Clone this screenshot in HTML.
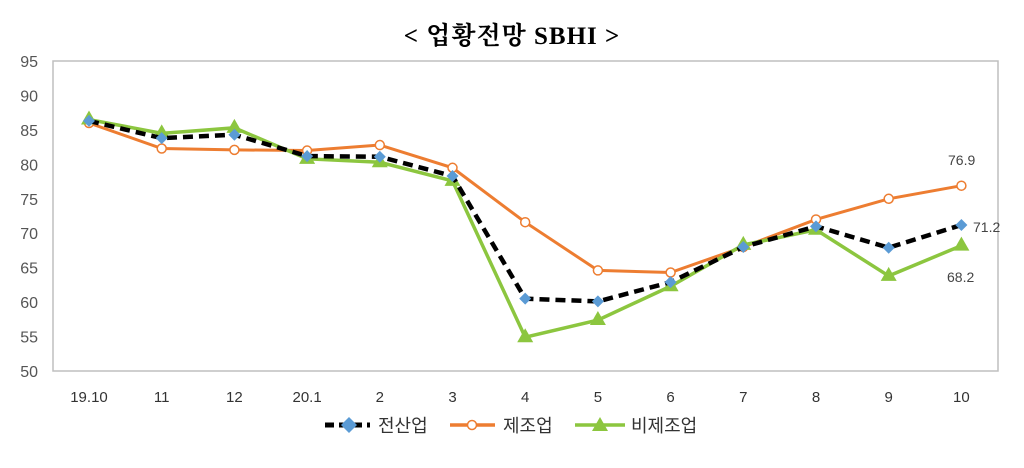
<!DOCTYPE html>
<html><head><meta charset="utf-8"><style>
body{margin:0;background:#fff;width:1024px;height:463px;overflow:hidden}
text{font-family:"Liberation Sans","Noto Sans CJK KR",sans-serif}
</style></head><body>
<svg width="1024" height="463" xmlns="http://www.w3.org/2000/svg">
<text x="512" y="44" text-anchor="middle" font-size="25" font-weight="bold" style="font-family:'Liberation Serif','Noto Serif CJK SC',serif" letter-spacing="1">&lt; 업황전망 SBHI &gt;</text>
<rect x="53" y="61" width="945" height="310" fill="none" stroke="#bfbfbf" stroke-width="1.5"/>
<g font-size="16" fill="#555" text-anchor="end" id="yl"></g>
<g font-size="15" fill="#333" text-anchor="middle" id="xl" style="font-family:'Liberation Serif',serif"></g>
<g id="s"></g>
<text x="948" y="165" font-size="14" fill="#444">76.9</text>
<text x="973" y="232" font-size="14" fill="#444">71.2</text>
<text x="947" y="282" font-size="14" fill="#444">68.2</text>
<g>
<line x1="325" y1="425" x2="370" y2="425" stroke="#000" stroke-width="5" stroke-dasharray="9,5"/>
<path d="M349,417 L357,425 L349,433 L341,425Z" fill="#5b9bd5"/>
<text x="378" y="432" font-size="18" fill="#333">전산업</text>
<line x1="450" y1="425" x2="495" y2="425" stroke="#ed7d31" stroke-width="3.5"/>
<circle cx="472" cy="425" r="4.5" fill="#fff" stroke="#ed7d31" stroke-width="1.5"/>
<text x="503" y="432" font-size="18" fill="#333">제조업</text>
<line x1="575" y1="425" x2="625" y2="425" stroke="#8cc63f" stroke-width="3.5"/>
<path d="M600,417 L608,431 L592,431Z" fill="#8cc63f"/>
<text x="631" y="432" font-size="18" fill="#333">비제조업</text>
</g>
</svg>
<script>
const X=i=>89+i*72.7, Y=v=>61+(95-v)*6.889;
const ns="http://www.w3.org/2000/svg";
const yl=document.getElementById('yl');
for(let v=50;v<=95;v+=5){const t=document.createElementNS(ns,'text');t.setAttribute('x',38);t.setAttribute('y',Y(v)+6);t.textContent=v;yl.appendChild(t);}
const cats=["19.10","11","12","20.1","2","3","4","5","6","7","8","9","10"];
const xl=document.getElementById('xl');
cats.forEach((c,i)=>{const t=document.createElementNS(ns,'text');t.setAttribute('x',X(i));t.setAttribute('y',402);t.textContent=c;xl.appendChild(t);});
const A=[86.3,83.8,84.3,81.2,81.1,78.3,60.5,60.1,62.9,68.0,71.0,67.9,71.2];
const M=[86,82.3,82.1,82,82.8,79.5,71.6,64.6,64.3,68,72,75,76.9];
const N=[86.5,84.5,85.3,80.8,80.3,77.6,54.9,57.4,62.3,68.3,70.5,63.8,68.2];
const s=document.getElementById('s');let h='';
const pts=a=>a.map((v,i)=>X(i)+','+Y(v)).join(' ');
h+=`<polyline points="${pts(M)}" fill="none" stroke="#ed7d31" stroke-width="3"/>`;
M.forEach((v,i)=>h+=`<circle cx="${X(i)}" cy="${Y(v)}" r="4.5" fill="#fff" stroke="#ed7d31" stroke-width="1.5"/>`);
h+=`<polyline points="${pts(N)}" fill="none" stroke="#8cc63f" stroke-width="3.5"/>`;
N.forEach((v,i)=>{const x=X(i),y=Y(v);h+=`<path d="M${x},${y-9} L${x+8},${y+5} L${x-8},${y+5}Z" fill="#8cc63f"/>`;});
h+=`<polyline points="${pts(A)}" fill="none" stroke="#000" stroke-width="4.5" stroke-dasharray="10,6"/>`;
A.forEach((v,i)=>{const x=X(i),y=Y(v);h+=`<path d="M${x},${y-6} L${x+6},${y} L${x},${y+6} L${x-6},${y}Z" fill="#5b9bd5"/>`;});
s.innerHTML=h;
</script>
</body></html>
